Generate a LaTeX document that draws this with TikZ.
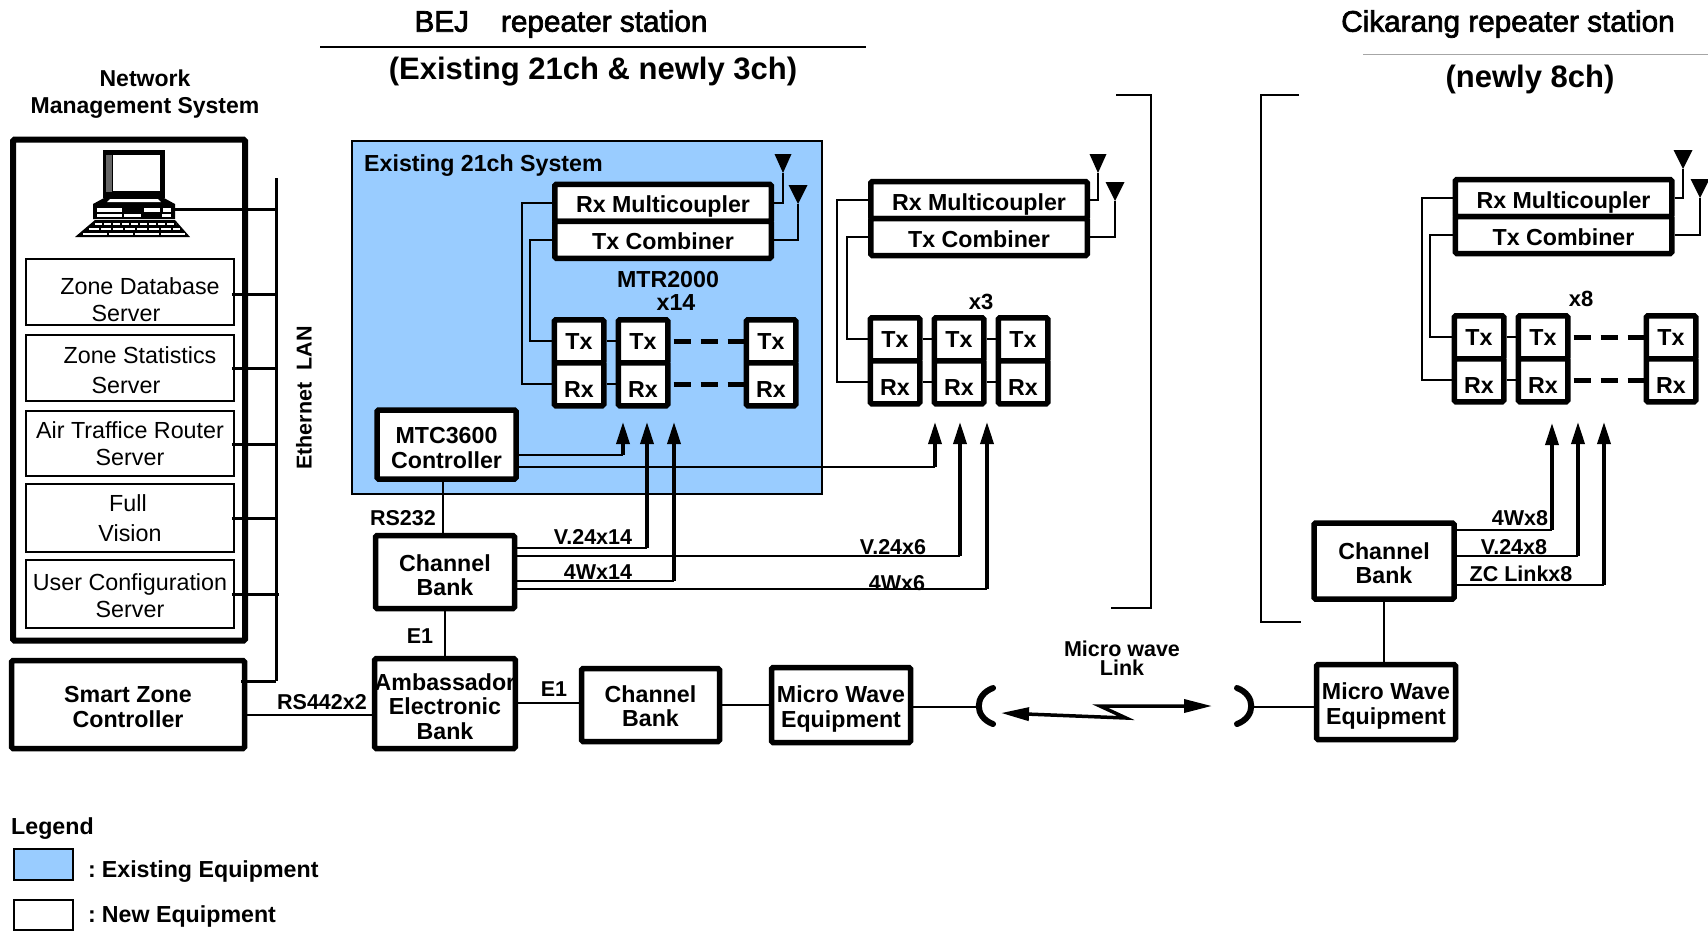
\documentclass[tikz,border=0pt]{standalone}
\usepackage{fontspec}
\usepackage{xcolor}
\setmainfont{Liberation Sans}
\usetikzlibrary{arrows.meta, positioning}
\definecolor{existing}{HTML}{99CCFF}
\newcommand{\drop}[1]{\rule{0pt}{#1pt}}
\newcommand{\heavy}[1]{\special{pdf:code 2 Tr 0.7 w}#1\special{pdf:code 0 Tr 1 w}}

\tikzset{
  lbl/.style={inner sep=0pt, font=\fontsize{21.5}{23}\selectfont\bfseries, align=center},
  big/.style={inner sep=0pt, font=\fontsize{23.2}{26}\selectfont\bfseries, align=center},
  unit/.style={draw, line width=5.5pt, rounded corners=1.5pt, fill=white, inner sep=0pt, align=center,
    font=\fontsize{23.2}{24.5}\selectfont\bfseries},
  rack/.style={unit, minimum width=216.5pt, minimum height=37pt, text height=24pt, text depth=4pt},
  cell/.style={unit, minimum width=49.5pt, minimum height=43pt, text height=16.5pt, text depth=0pt},
  rxcell/.style={cell, text height=26pt},
  server/.style={draw, line width=1.5pt, fill=white, minimum width=208pt, inner sep=0pt, align=center,
    font=\fontsize{23.3}{27}\selectfont},
  wire/.style={line width=2pt},
  bus/.style={line width=3pt},
  feed/.style={line width=2.2pt},
  riser/.style={line width=3.5pt, -{Triangle[width=13pt,length=22pt]}},
  trunk/.style={line width=5.5pt, dash pattern=on 17pt off 10pt},
  dish/.style={line width=6pt, line cap=round},
  title/.style={inner sep=0pt, font=\fontsize{29.7}{32}\selectfont},
  subtitle/.style={inner sep=0pt, font=\fontsize{31}{34}\selectfont\bfseries},
}

\begin{document}
\begin{tikzpicture}[x=1pt, y=-1pt, on grid]
   \useasboundingbox (0,0) rectangle (1708,938);

   % titles
   \node[title] (bej) at (561,24) {\heavy{BEJ\hspace{32pt}repeater station}};
   \node[subtitle] (bejsub) at (593,72) {(Existing 21ch \& newly 3ch)};
   \node[title] (cik) at (1508,24) {\heavy{Cikarang repeater station}};
   \node[subtitle] (ciksub) at (1530,79) {(newly 8ch)};
   \coordinate (bejL) at (320,47);
   \coordinate (bejR) at (866,47);
   \coordinate (cikL) at (1363,54);
   \coordinate (cikR) at (1708,54);
   \draw[line width=1.5pt] (bejL) -- (bejR);
   \draw[line width=1pt, black!35] (cikL) -- (cikR);
   \node[big, font=\fontsize{23}{27}\selectfont\bfseries] (nmstitle) at (145,94) {Network\\Management System};

   % management system
   \node[draw, line width=6pt, rounded corners=1.5pt, minimum width=232pt, minimum height=501pt] (nms) at (129,390) {};
   \node[server, minimum height=66pt] (zdb) at (130,292) {\drop{32}\hspace*{20pt}Zone Database\\Server\hspace*{8pt}};
   \node[server, minimum height=66pt] (zst) at (130,368) {\drop{21}\hspace*{20pt}Zone Statistics\\[3pt]Server\hspace*{8pt}};
   \node[server, minimum height=65pt] (atr) at (130,443.5) {Air Traffice Router\\Server};
   \node[server, minimum height=68pt] (fv)  at (130,518) {\hspace*{-4pt}Full\\[3pt]Vision};
   \node[server, minimum height=68pt] (ucs) at (130,594) {\drop{20}User Configuration\\Server};
   \node[unit, minimum width=233pt, minimum height=88pt] (szc) at (128,704.5) {\drop{21}Smart Zone\\Controller};

   % laptop
   \coordinate (pc) at (175,209);
   \fill (103,150) rectangle (165,198);
   \fill[black!60] (106,155) rectangle (112,192);
   \fill[white] (113,155) rectangle (160,191);
   \fill (104,198) -- (164,198) -- (175,204) -- (175,219) -- (93,219) -- (93,204) -- cycle;
   \fill[white] (110,199) -- (158,199) -- (161,202) -- (107,202) -- cycle;
   \fill[white] (97,208) rectangle (122,212);
   \fill[white] (97,214) rectangle (122,217);
   \fill[white] (124,214) rectangle (141,217);
   \fill[white] (144,208) rectangle (160,212);
   \fill[white] (163,208) rectangle (171,212);
   \fill[white] (162,214) rectangle (171,217);
   \fill (95,220) -- (175,220) -- (190,237) -- (75,237) -- cycle;
   \draw[white, line width=1.5pt, dash pattern=on 7pt off 2pt] (95,224) -- (176,224);
   \draw[white, line width=1.5pt, dash pattern=on 10pt off 2pt] (89,229) -- (180,229);
   \draw[white, line width=1.5pt, dash pattern=on 24pt off 2pt] (83,234) -- (185,234);

   % ethernet bus
   \coordinate (lanT) at (276,178);
   \coordinate (lanB) at (276,681);
   \draw[bus] (lanT) -- (lanB);
   \draw[bus] (pc) -- (pc -| lanT);
   \draw[bus] ([xshift=-3pt,yshift=-2pt]zdb.east) -- ([yshift=-2pt]zdb.east -| lanT);
   \draw[bus] ([xshift=-3pt]zst.east) -- (zst.east -| lanT);
   \draw[bus] ([xshift=-3pt,yshift=-0.5pt]atr.east) -- ([yshift=-0.5pt]atr.east -| lanT);
   \draw[bus] ([xshift=-3pt]fv.east) -- (fv.east -| lanT);
   \draw[bus] ([xshift=-3pt]ucs.east) -- ([xshift=3pt]ucs.east -| lanT);
   \draw[bus] ([yshift=23.5pt,xshift=-6pt]szc.east) -- (lanB);
   \node[lbl, rotate=90] (lan) at (304,398) {Ethernet\hspace{12pt}LAN};

   % existing system background
   \node[draw, line width=1.5pt, fill=existing, minimum width=470pt, minimum height=353pt] (sys) at (587,317.5) {};
   \node[big, anchor=west] (sysname) at (364,166) {Existing 21ch System};

   % BEJ existing rack
   \node[rack] (rxmA) at (663,202.75) {Rx Multicoupler};
   \node[rack] (txcA) [below=37pt of rxmA] {Tx Combiner};
   \node[cell] (txA1) at (579,341.25) {Tx};
   \node[rxcell] (rxA1) [below=43pt of txA1] {Rx};
   \node[cell] (txA2) [right=64pt of txA1] {Tx};
   \node[rxcell] (rxA2) [below=43pt of txA2] {Rx};
   \node[cell] (txA3) [right=128pt of txA2] {Tx};
   \node[rxcell] (rxA3) [below=43pt of txA3] {Rx};
   \node[big] (mtr) at (668,280) {MTR2000};
   \node[big] (x14) at (676,303) {x14};
   \coordinate (antA) at (783,173);
   \coordinate (antB) at (798,204);
   \coordinate (viaA) at (522,300);
   \coordinate (viaB) at (530,300);
   \fill (antA) -- ++(-8.5,-19) -- ++(17,0) -- cycle;
   \fill (antB) -- ++(-9.5,-19) -- ++(19,0) -- cycle;
   \draw[wire] (rxmA.east) -| (antA);
   \draw[wire] (txcA.east) -| (antB);
   \draw[wire] (rxmA.west) -| (viaA) |- (rxA1.west);
   \draw[wire] (txcA.west) -| (viaB) |- (txA1.west);
   \draw[wire] (txA1) -- (txA2);
   \draw[wire] (rxA1) -- (rxA2);
   \draw[trunk, shorten <=3pt] (txA2.east) -- (txA3.west);
   \draw[trunk, shorten <=3pt] (rxA2.east) -- (rxA3.west);

   % BEJ new rack
   \node[rack] (rxmB) at (979,200) {Rx Multicoupler};
   \node[rack] (txcB) [below=37pt of rxmB] {Tx Combiner};
   \node[cell] (txB1) at (895,339.25) {Tx};
   \node[rxcell] (rxB1) [below=43pt of txB1] {Rx};
   \node[cell] (txB2) [right=64pt of txB1] {Tx};
   \node[rxcell] (rxB2) [below=43pt of txB2] {Rx};
   \node[cell] (txB3) [right=64pt of txB2] {Tx};
   \node[rxcell] (rxB3) [below=43pt of txB3] {Rx};
   \node[big, font=\fontsize{22}{25}\selectfont\bfseries] (x3) at (981,302) {x3};
   \coordinate (antC) at (1098,173);
   \coordinate (antD) at (1115,201);
   \coordinate (viaC) at (837,300);
   \coordinate (viaD) at (847,300);
   \fill (antC) -- ++(-8.5,-19) -- ++(17,0) -- cycle;
   \fill (antD) -- ++(-9.5,-19) -- ++(19,0) -- cycle;
   \draw[wire] (rxmB.east) -| (antC);
   \draw[wire] (txcB.east) -| (antD);
   \draw[wire] (rxmB.west) -| (viaC) |- (rxB1.west);
   \draw[wire] (txcB.west) -| (viaD) |- (txB1.west);
   \draw[wire] (txB1) -- (txB2);
   \draw[wire] (rxB1) -- (rxB2);
   \draw[wire] (txB2) -- (txB3);
   \draw[wire] (rxB2) -- (rxB3);

   % Cikarang rack
   \node[rack] (rxmC) at (1563.5,198) {Rx Multicoupler};
   \node[rack] (txcC) [below=37pt of rxmC] {Tx Combiner};
   \node[cell] (txC1) at (1479,337.25) {Tx};
   \node[rxcell] (rxC1) [below=43pt of txC1] {Rx};
   \node[cell] (txC2) [right=64pt of txC1] {Tx};
   \node[rxcell] (rxC2) [below=43pt of txC2] {Rx};
   \node[cell] (txC3) [right=128pt of txC2] {Tx};
   \node[rxcell] (rxC3) [below=43pt of txC3] {Rx};
   \node[big, font=\fontsize{22}{25}\selectfont\bfseries] (x8) at (1581,299) {x8};
   \coordinate (antE) at (1683,169);
   \coordinate (antF) at (1700,198);
   \coordinate (viaE) at (1422,300);
   \coordinate (viaF) at (1430,300);
   \fill (antE) -- ++(-9.5,-19) -- ++(19,0) -- cycle;
   \fill (antF) -- ++(-9.5,-19) -- ++(19,0) -- cycle;
   \draw[wire] (rxmC.east) -| (antE);
   \draw[wire] (txcC.east) -| (antF);
   \draw[wire] (rxmC.west) -| (viaE) |- (rxC1.west);
   \draw[wire] (txcC.west) -| (viaF) |- (txC1.west);
   \draw[wire] (txC1) -- (txC2);
   \draw[wire] (rxC1) -- (rxC2);
   \draw[trunk, shorten <=3pt] (txC2.east) -- (txC3.west);
   \draw[trunk, shorten <=3pt] (rxC2.east) -- (rxC3.west);

   % brackets
   \coordinate (brA) at (1116,95);
   \coordinate (brB) at (1151,95);
   \coordinate (brC) at (1151,608);
   \coordinate (brD) at (1111,608);
   \coordinate (brE) at (1299,95);
   \coordinate (brF) at (1261,95);
   \coordinate (brG) at (1261,622);
   \coordinate (brH) at (1301,622);
   \draw[wire] (brA) -- (brB) -- (brC) -- (brD);
   \draw[wire] (brE) -- (brF) -- (brG) -- (brH);

   % lower chain
   \node[unit, minimum width=139pt, minimum height=69pt] (ctrl) at (446.5,444.5) {\drop{23}MTC3600\\Controller};
   \node[unit, minimum width=139pt, minimum height=73pt] (bankA) at (445,572) {\drop{23}Channel\\Bank};
   \node[unit, minimum width=139pt, minimum height=90pt] (amb) at (445,703.5) {\drop{23}Ambassador\\Electronic\\Bank};
   \node[unit, minimum width=138pt, minimum height=73pt] (bankB) at (650.5,705) {\drop{19}Channel\\Bank};
   \node[unit, minimum width=139pt, minimum height=75pt] (mwA) at (841,705) {\drop{25}Micro Wave\\Equipment};
   \node[unit, minimum width=139pt, minimum height=75pt] (mwB) at (1386,702) {\drop{25}Micro Wave\\Equipment};
   \node[unit, minimum width=140pt, minimum height=76pt] (bankC) at (1384,561) {\drop{21}Channel\\Bank};

   \draw[wire] ([xshift=-2pt]ctrl.south -| bankA) -- ([xshift=-2pt]bankA.north);
   \draw[wire] (bankA) -- (amb);
   \draw[wire] ([yshift=-10.5pt]szc.east) -- ([yshift=-11.5pt]amb.west);
   \draw[wire] ([yshift=0.5pt]amb.east) -- ([yshift=2pt]bankB.west);
   \draw[wire] (bankB) -- (mwA);
   \draw[wire] (bankC.south) -- (bankC.south |- mwB.north);

   % feeds into the radios
   \coordinate (tipA) at (623,422);
   \coordinate (tipB) at (647,422);
   \coordinate (tipC) at (674,422);
   \coordinate (tipD) at (935,422);
   \coordinate (tipE) at (960,422);
   \coordinate (tipF) at (987,422);
   \coordinate (tipG) at (1552,423);
   \coordinate (tipH) at (1578,422);
   \coordinate (tipI) at (1604,422);
   \draw[feed] ([yshift=-10.5pt]ctrl.east) -- ([yshift=-10.5pt]ctrl.east -| tipA);
   \draw[riser] ([yshift=-10.5pt]ctrl.east -| tipA) -- (tipA);
   \draw[feed] ([yshift=-22.5pt]ctrl.east) -- ([yshift=-22.5pt]ctrl.east -| tipD);
   \draw[riser] ([yshift=-22.5pt]ctrl.east -| tipD) -- (tipD);
   \draw[feed] ([yshift=24pt]bankA.east) -- ([yshift=24pt]bankA.east -| tipB);
   \draw[riser] ([yshift=24pt]bankA.east -| tipB) -- (tipB);
   \draw[feed] ([yshift=16pt]bankA.east) -- ([yshift=16pt]bankA.east -| tipE);
   \draw[riser] ([yshift=16pt]bankA.east -| tipE) -- (tipE);
   \draw[feed] ([yshift=-9pt]bankA.east) -- ([yshift=-9pt]bankA.east -| tipC);
   \draw[riser] ([yshift=-9pt]bankA.east -| tipC) -- (tipC);
   \draw[feed] ([yshift=-17pt]bankA.east) -- ([yshift=-17pt]bankA.east -| tipF);
   \draw[riser] ([yshift=-17pt]bankA.east -| tipF) -- (tipF);
   \draw[feed] ([yshift=31pt]bankC.east) -- ([yshift=31pt]bankC.east -| tipG);
   \draw[riser] ([yshift=31pt]bankC.east -| tipG) -- (tipG);
   \draw[feed] ([yshift=5pt]bankC.east) -- ([yshift=5pt]bankC.east -| tipH);
   \draw[riser] ([yshift=5pt]bankC.east -| tipH) -- (tipH);
   \draw[feed] ([yshift=-24pt]bankC.east) -- ([yshift=-24pt]bankC.east -| tipI);
   \draw[riser] ([yshift=-24pt]bankC.east -| tipI) -- (tipI);

   \node[lbl] (rs232) at (403,518) {RS232};
   \node[lbl] (e1a) at (420,636) {E1};
   \node[lbl] (rs442) at (322,702) {RS442x2};
   \node[lbl] (e1b) at (554,689) {E1};
   \node[lbl] (v14) at (593,537) {V.24x14};
   \node[lbl] (w14) at (598,572) {4Wx14};
   \node[lbl] (v6) at (893,547) {V.24x6};
   \node[lbl] (w6) at (897,583) {4Wx6};
   \node[lbl] (w8) at (1520,518) {4Wx8};
   \node[lbl] (v8) at (1514,547) {V.24x8};
   \node[lbl] (zc8) at (1521,574) {ZC Linkx8};

   % micro wave link
   \coordinate (dishA) at (978,707);
   \coordinate (dishB) at (1252,707);
   \coordinate (linkL) at (1001,713);
   \coordinate (linkM) at (1126,718);
   \coordinate (linkN) at (1100,706);
   \coordinate (linkR) at (1212,706);
   \draw[dish] (993,688) .. controls (974,695) and (974,717) .. (993,724);
   \draw[dish] (1237,688) .. controls (1256,695) and (1256,717) .. (1237,724);
   \draw[wire] ([yshift=-2pt]mwA.east) -- (dishA);
   \draw[wire] (dishB) -- ([yshift=-5pt]mwB.west);
   \draw[line width=3.5pt, {Triangle[width=13pt,length=28pt]}-{Triangle[width=13pt,length=28pt]}]
     (linkL) -- (linkM) -- (linkN) -- (linkR);
   \node[lbl] (mwlink) at (1122,658) {Micro wave\\[-4pt]Link};

   % legend
   \node[big, anchor=west] (legend) at (11,829) {Legend};
   \node[draw, line width=1.5pt, fill=existing, minimum width=59pt, minimum height=31pt] (keyA) at (43.5,864.5) {};
   \node[draw, line width=1.5pt, fill=white, minimum width=59pt, minimum height=30pt] (keyB) at (43.5,915) {};
   \node[big, anchor=west] (keyAtxt) at (88,872) {:\hspace{6pt}Existing Equipment};
   \node[big, anchor=west] (keyBtxt) at (88,916) {:\hspace{6pt}New Equipment};
\end{tikzpicture}
\end{document}
